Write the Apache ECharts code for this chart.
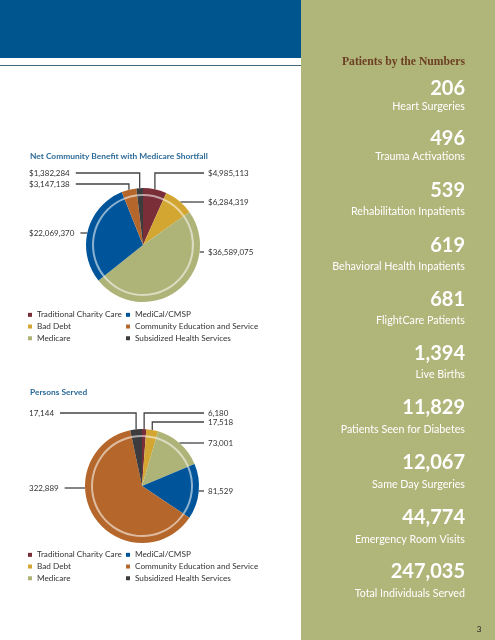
<!DOCTYPE html>
<html><head><meta charset="utf-8">
<script src="https://cdn.jsdelivr.net/npm/echarts@6/dist/echarts.min.js"></script>
<style>html,body{margin:0;padding:0;background:#fff}#c{width:495px;height:640px}</style>
</head><body><div id="c"></div>
<script>
// ---- data ----
const categories = ['Traditional Charity Care','Bad Debt','Medicare','MediCal/CMSP','Community Education and Service','Subsidized Health Services'];
const benefitValues = [4985113, 6284319, 36589075, 22069370, 3147138, 1382284];
const personsValues = [6180, 17518, 73001, 81529, 322889, 17144];
const sideValues = [206, 496, 539, 619, 681, 1394, 11829, 12067, 44774, 247035];
const sideLabels = ['Heart Surgeries','Trauma Activations','Rehabilitation Inpatients','Behavioral Health Inpatients','FlightCare Patients','Live Births','Patients Seen for Diabetes','Same Day Surgeries','Emergency Room Visits','Total Individuals Served'];
const chartTitles = ['Net Community Benefit with Medicare Shortfall','Persons Served'];
const sideTitle = 'Patients by the Numbers';

// ---- layout / style ----
const colors = ['#7a2e38','#d3a632','#aeb378','#00559a','#b5672b','#3c3c3e'];
const PIE_R = 57;
const sideNumY = [89,139,191,246,300,354,408,463,518,572];
const sideLblY = [107,157,212,267,321,375,430,485,540,594];
const pies = [
  {center:[143,245], labelY:[173,202,252,233,184,173], values: benefitValues, fmt: v => '$' + v.toLocaleString('en-US'), titleY:156, legendTop:309},
  {center:[142,486], labelY:[413,422,443,491,488,413], values: personsValues, fmt: v => v.toLocaleString('en-US'), titleY:392, legendTop:549}
];
const FONT = 'Lato, "Open Sans", sans-serif';

function makeLayout(k){
  const p = pies[k]; const vals = p.values; const total = vals.reduce((a,b)=>a+b,0);
  return function(params){
    const i = params.dataIndex;
    let cum = 0; for (let j=0;j<i;j++) cum += vals[j];
    const a0 = cum/total*360, a1 = (cum+vals[i])/total*360, mid = (a0+a1)/2;
    const left = mid > 180;
    const ly = p.labelY[i];
    const cx = p.center[0], cy = p.center[1], R = PIE_R;
    const w = params.labelRect.width;
    const lx = left ? 29 : 208;
    const endX = left ? 29 + w + 6 : 204;
    const dy = ly - cy;
    let anchor = null;
    if (Math.abs(dy) < R) {
      const dx = Math.sqrt(R*R - dy*dy) * (left ? -1 : 1);
      let ang = Math.atan2(dx, -dy) * 180 / Math.PI; if (ang < 0) ang += 360;
      if (ang >= a0 && ang <= a1) anchor = [cx + dx, ly];
    }
    let pts;
    if (anchor) pts = [anchor, [(anchor[0]+endX)/2, ly], [endX, ly]];
    else {
      const r = mid * Math.PI / 180;
      const ax = cx + R*Math.sin(r), ay = cy - R*Math.cos(r);
      pts = [[ax, ay], [ax, ly], [endX, ly]];
    }
    return {x: lx, y: ly, align: 'left', verticalAlign: 'middle', labelLinePoints: pts};
  };
}

const series = [];
pies.forEach((p, k) => {
  series.push({
    type:'pie', center:p.center, radius:[0, PIE_R], startAngle:90, clockwise:true,
    avoidLabelOverlap:false, animation:false,
    data: categories.map((n,i)=>({name:n, value:p.values[i], itemStyle:{color:colors[i]}})),
    label:{show:true, position:'outside', formatter: prm => p.fmt(prm.value), color:'#333', fontSize:8, fontFamily:FONT},
    labelLine:{show:true, length:5, length2:5, smooth:false, lineStyle:{color:'#444', width:1.3}},
    labelLayout: makeLayout(k),
    emphasis:{disabled:true}
  });
  series.push({
    type:'pie', center:p.center, radius:[PIE_R-8, PIE_R-6], startAngle:90, clockwise:true,
    animation:false, silent:true,
    data: categories.map((n,i)=>({name:n, value:p.values[i], itemStyle:{color:'rgba(255,255,255,0.55)'}})),
    label:{show:false}, labelLine:{show:false},
    emphasis:{disabled:true}
  });
});

const legendBase = {orient:'vertical', icon:'rect', itemWidth:4, itemHeight:4, itemGap:0, padding:0, selectedMode:false,
  textStyle:{fontSize:8.2, color:'#333', fontFamily:FONT, lineHeight:11.7}};
const legends = [];
pies.forEach(p => {
  legends.push(Object.assign({}, legendBase, {left:28, top:p.legendTop, data:categories.slice(0,3)}));
  legends.push(Object.assign({}, legendBase, {left:126, top:p.legendTop, data:categories.slice(3)}));
});

const graphic = [
  {type:'rect', shape:{x:301, y:0, width:194, height:640}, style:{fill:'#b0b57a'}, silent:true},
  {type:'rect', shape:{x:0, y:0, width:301, height:58}, style:{fill:'#00558f'}, silent:true},
  {type:'line', shape:{x1:0, y1:65.5, x2:301, y2:65.5}, style:{stroke:'#3f6779', lineWidth:1.2}, silent:true},
  {type:'text', x:465, y:62, style:{text:sideTitle, fill:'#6b3f22', font:'bold 11.7px "Liberation Serif", serif', textAlign:'right', textVerticalAlign:'middle'}},
  {type:'text', x:479, y:629, style:{text:'3', fill:'#222', font:'8px '+FONT, textAlign:'center', textVerticalAlign:'middle'}}
];
sideValues.forEach((v,i) => {
  graphic.push({type:'text', x:465, y:sideNumY[i], style:{text:v.toLocaleString('en-US'), fill:'#fff', font:'bold 20px '+FONT, textAlign:'right', textVerticalAlign:'middle'}});
  graphic.push({type:'text', x:465, y:sideLblY[i], style:{text:sideLabels[i], fill:'#fff', font:'10.7px '+FONT, textAlign:'right', textVerticalAlign:'middle'}});
});
pies.forEach((p,k) => {
  graphic.push({type:'text', x:30, y:p.titleY, style:{text:chartTitles[k], fill:'#2b6a98', font:'bold 8.4px '+FONT, textAlign:'left', textVerticalAlign:'middle'}});
});

const chart = echarts.init(document.getElementById('c'), null, {renderer:'canvas'});
chart.setOption({animation:false, backgroundColor:'#fff', series, legend:legends, graphic});
</script></body></html>
